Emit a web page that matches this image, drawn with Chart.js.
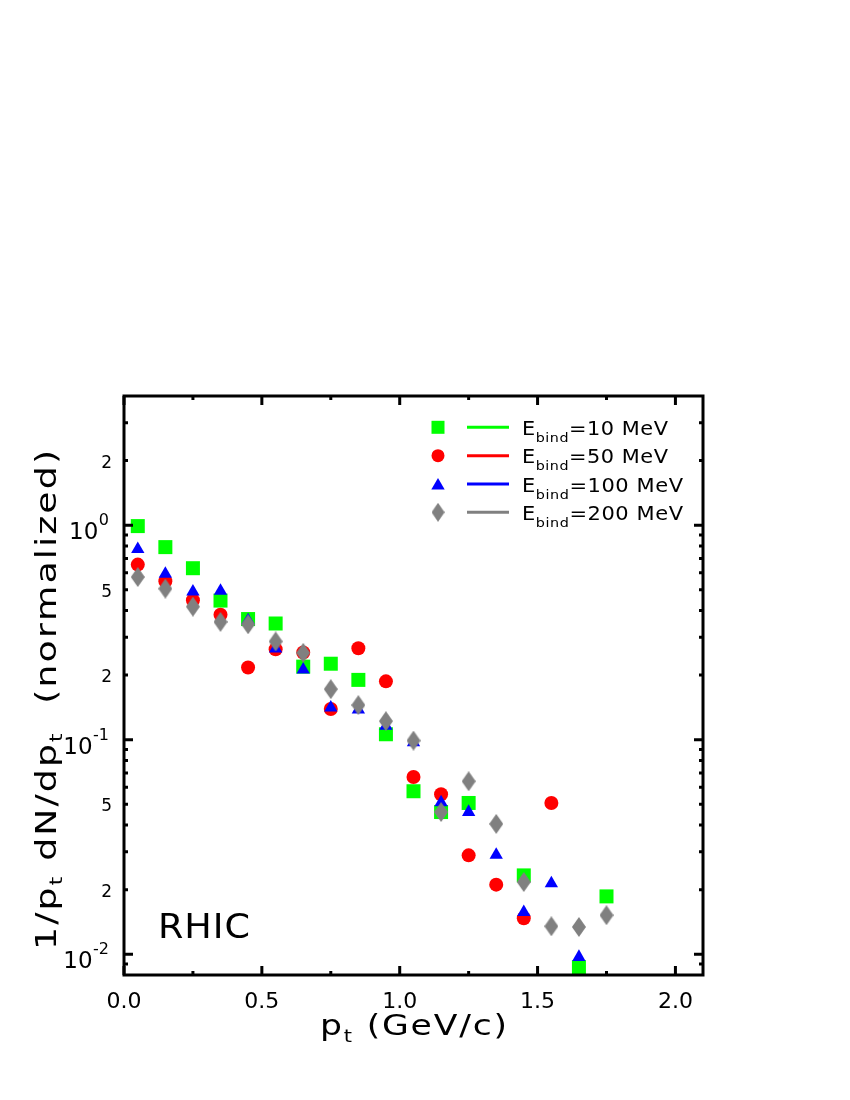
<!DOCTYPE html>
<html>
<head>
<meta charset="utf-8">
<script src="https://cdn.jsdelivr.net/npm/chart.js@4/dist/chart.umd.min.js"></script>
<style>
  html, body { margin: 0; padding: 0; background: #fff; }
  #chart { display: block; }
</style>
</head>
<body>
<canvas id="chart" width="850" height="1100"></canvas>
<script>
// transverse momentum bin centres (GeV/c)
const ptBins = [0.05, 0.15, 0.25, 0.35, 0.45, 0.55, 0.65, 0.75, 0.85, 0.95, 1.05, 1.15, 1.25, 1.35, 1.45, 1.55, 1.65, 1.75];

// 1/pt dN/dpt (normalized), one array per binding energy
const bind10 = [0.99, 0.79, 0.63, 0.445, 0.365, 0.348, 0.219, 0.226, 0.19, 0.106, 0.0575, 0.046, 0.0507, null, 0.0233, null, 0.0087, 0.0186];
const bind50 = [0.655, 0.548, 0.447, 0.382, 0.217, 0.264, 0.255, 0.139, 0.267, 0.187, 0.067, 0.0557, 0.0289, 0.0211, 0.0147, 0.0507, null, null];
const bind100 = [0.773, 0.593, 0.49, 0.494, 0.36, 0.266, 0.212, 0.141, 0.138, 0.116, 0.097, 0.051, 0.046, 0.029, 0.0157, 0.0214, 0.0097, null];
const bind200 = [0.573, 0.506, 0.417, 0.354, 0.345, 0.287, 0.254, 0.172, 0.145, 0.122, 0.099, 0.046, 0.064, 0.0405, 0.0217, 0.0135, 0.0134, 0.0152];

const seriesNames = ['10 MeV', '50 MeV', '100 MeV', '200 MeV'];

// axis ticks
const xTickValues = [0, 0.5, 1.0, 1.5, 2.0];
const xTickLabels = ['0.0', '0.5', '1.0', '1.5', '2.0'];
const xMinorValues = [0.25, 0.75, 1.25, 1.75];
const yTickValues = [0.01, 0.02, 0.05, 0.1, 0.2, 0.5, 1, 2];
const yTickLabels = ['10|-2', '2', '5', '10|-1', '2', '5', '10|0', '2'];

const FONT = '"DejaVu Sans", sans-serif';
const GREEN = '#00ff00';
const RED = '#ff0000';
const BLUE = '#0000ff';
const GRAY = '#808080';

// elongated diamond marker
function makeDiamond(w, h, color) {
    const c = document.createElement('canvas');
    c.width = w;
    c.height = h;
    const g = c.getContext('2d');
    g.fillStyle = color;
    g.beginPath();
    g.moveTo(w / 2, 0);
    g.lineTo(w, h / 2);
    g.lineTo(w / 2, h);
    g.lineTo(0, h / 2);
    g.closePath();
    g.fill();
    return c;
}
const diamond = makeDiamond(14, 20, GRAY);

function toPoints(values) {
    return ptBins
        .map((x, i) => ({ x: x, y: values[i] }))
        .filter(p => p.y !== null);
}

// text drawn glyph by glyph so it can be widened to the reference's wide face
function drawRich(ctx, segs, x, y, opt) {
    let w = 0, n = 0;
    segs.forEach(s => {
        ctx.font = s.size + 'px ' + FONT;
        for (const ch of s.text) { w += ctx.measureText(ch).width; n++; }
    });
    let sx = 1, gap = 0;
    if (opt.width) {
        sx = Math.min(1.4, Math.max(1, Math.pow(opt.width / w, 0.7)));
        gap = n > 1 ? (opt.width - w * sx) / (n - 1) : 0;
        if (gap < 0) { gap = 0; sx = opt.width / w; }
    }
    const total = w * sx + gap * (n - 1);
    let cx = x;
    if (opt.align === 'center') cx = x - total / 2;
    else if (opt.align === 'right') cx = x - total;
    ctx.textAlign = 'left';
    ctx.textBaseline = 'alphabetic';
    segs.forEach(s => {
        ctx.font = s.size + 'px ' + FONT;
        for (const ch of s.text) {
            const cw = ctx.measureText(ch).width;
            ctx.save();
            ctx.translate(cx, y + (s.dy || 0));
            ctx.scale(sx, 1);
            ctx.fillText(ch, 0, 0);
            ctx.restore();
            cx += cw * sx + gap;
        }
    });
}

const framePlugin = {
    id: 'frame',
    afterDraw(chart) {
        const ctx = chart.ctx;
        const area = chart.chartArea;
        const xs = chart.scales.x;
        const ys = chart.scales.y;

        ctx.save();
        ctx.strokeStyle = '#000';
        ctx.fillStyle = '#000';
        ctx.lineWidth = 3;
        ctx.lineCap = 'butt';

        // frame
        ctx.strokeRect(area.left, area.top, area.right - area.left, area.bottom - area.top);

        // x ticks, bottom and top
        const xTick = (v, len) => {
            const px = xs.getPixelForValue(v);
            ctx.beginPath();
            ctx.moveTo(px, area.bottom);
            ctx.lineTo(px, area.bottom - len);
            ctx.moveTo(px, area.top);
            ctx.lineTo(px, area.top + len);
            ctx.stroke();
        };
        xTickValues.forEach(v => xTick(v, 9));
        xMinorValues.forEach(v => xTick(v, 4));

        // y ticks, left and right
        const yTick = (v, len) => {
            const py = ys.getPixelForValue(v);
            ctx.beginPath();
            ctx.moveTo(area.left, py);
            ctx.lineTo(area.left + len, py);
            ctx.moveTo(area.right, py);
            ctx.lineTo(area.right - len, py);
            ctx.stroke();
        };
        [0.001, 0.01, 0.1, 1].forEach(d => {
            if (d > ys.min && d < ys.max) yTick(d, 9);
            for (let k = 2; k <= 9; k++) {
                const v = k * d;
                if (v > ys.min * 1.001 && v < ys.max * 0.999) yTick(v, 4);
            }
        });

        // x tick labels
        ctx.font = '22px ' + FONT;
        ctx.textAlign = 'center';
        ctx.textBaseline = 'alphabetic';
        xTickValues.forEach((v, i) => {
            ctx.fillText(xTickLabels[i], xs.getPixelForValue(v), 1008);
        });

        // y tick labels
        yTickValues.forEach((v, i) => {
            const py = ys.getPixelForValue(v);
            const lab = yTickLabels[i];
            if (lab.indexOf('|') >= 0) {
                const parts = lab.split('|');
                ctx.font = '16px ' + FONT;
                const supW = ctx.measureText(parts[1]).width;
                const supX = 109 - supW;
                ctx.textAlign = 'left';
                ctx.fillText(parts[1], supX, py + 0);
                ctx.font = '23px ' + FONT;
                ctx.textAlign = 'right';
                ctx.fillText(parts[0], supX - 0.5, py + 14);
            } else {
                ctx.font = '17px ' + FONT;
                ctx.textAlign = 'right';
                ctx.fillText(lab, 112, py + 7);
            }
        });

        // axis titles
        drawRich(ctx, [
            { text: 'p', size: 28 },
            { text: 't', size: 17, dy: 7 },
            { text: ' (GeV/c)', size: 28 }
        ], (area.left + area.right) / 2, 1035, { align: 'center', width: 187 });

        ctx.save();
        ctx.translate(56, 700);
        ctx.rotate(-Math.PI / 2);
        drawRich(ctx, [
            { text: '1/p', size: 28 },
            { text: 't', size: 17, dy: 6 },
            { text: ' dN/dp', size: 28 },
            { text: 't', size: 17, dy: 6 },
            { text: '  (normalized)', size: 28 }
        ], 0, 0, { align: 'center', width: 500 });
        ctx.restore();

        // collision label
        drawRich(ctx, [{ text: 'RHIC', size: 34 }], 158, 938, { width: 92 });

        // legend
        const rows = [427.3, 455.7, 484, 512.3];
        const colors = [GREEN, RED, BLUE, GRAY];
        const widths = [146, 146, 161, 161];
        const mx = 438;
        rows.forEach((ry, i) => {
            ctx.fillStyle = colors[i];
            if (i === 0) {
                ctx.fillRect(mx - 6.5, ry - 6.5, 13, 13);
            } else if (i === 1) {
                ctx.beginPath();
                ctx.arc(mx, ry, 6.5, 0, Math.PI * 2);
                ctx.fill();
            } else if (i === 2) {
                ctx.beginPath();
                ctx.moveTo(mx, ry - 6);
                ctx.lineTo(mx + 6.7, ry + 5.5);
                ctx.lineTo(mx - 6.7, ry + 5.5);
                ctx.closePath();
                ctx.fill();
            } else {
                ctx.drawImage(diamond, mx - 6.5, ry - 9.5, 13, 19);
            }
            ctx.strokeStyle = colors[i];
            ctx.lineWidth = 3;
            ctx.beginPath();
            ctx.moveTo(467, ry);
            ctx.lineTo(509, ry);
            ctx.stroke();

            ctx.fillStyle = '#000';
            drawRich(ctx, [
                { text: 'E', size: 19 },
                { text: 'bind', size: 13, dy: 7 },
                { text: '=' + seriesNames[i], size: 19 }
            ], 522, ry + 7.7, { width: widths[i] });
        });

        ctx.restore();
    }
};

const ctx = document.getElementById('chart').getContext('2d');

new Chart(ctx, {
    type: 'scatter',
    data: {
        datasets: [
            {
                label: 'E_bind=' + seriesNames[0],
                data: toPoints(bind10),
                pointStyle: 'rect',
                pointRadius: 9.9,
                backgroundColor: GREEN,
                borderWidth: 0,
                order: 4
            },
            {
                label: 'E_bind=' + seriesNames[1],
                data: toPoints(bind50),
                pointStyle: 'circle',
                pointRadius: 7,
                backgroundColor: RED,
                borderWidth: 0,
                order: 3
            },
            {
                label: 'E_bind=' + seriesNames[2],
                data: toPoints(bind100),
                pointStyle: 'triangle',
                pointRadius: 7.7,
                backgroundColor: BLUE,
                borderWidth: 0,
                order: 2
            },
            {
                label: 'E_bind=' + seriesNames[3],
                data: toPoints(bind200),
                pointStyle: diamond,
                backgroundColor: GRAY,
                borderWidth: 0,
                order: 1
            }
        ]
    },
    options: {
        responsive: false,
        animation: false,
        devicePixelRatio: 1,
        layout: {
            padding: { left: 124, top: 396, right: 147, bottom: 125 }
        },
        plugins: {
            legend: { display: false },
            tooltip: { enabled: false }
        },
        scales: {
            x: { type: 'linear', min: 0, max: 2.1, display: false },
            y: { type: 'logarithmic', min: 0.008, max: 4, display: false }
        }
    },
    plugins: [framePlugin]
});
</script>
</body>
</html>
